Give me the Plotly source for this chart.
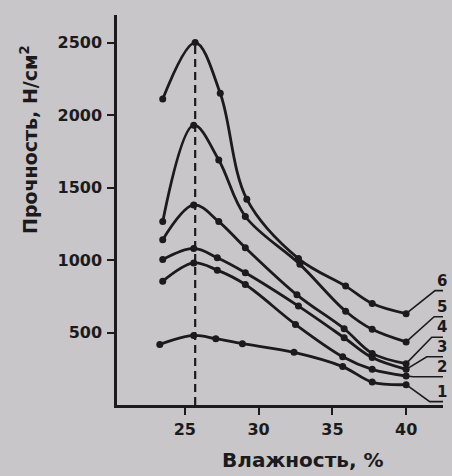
import plotly.graph_objects as go

# Moisture (%) values of measured points for each curve
x1 = [23.3, 25.6, 27.1, 28.9, 32.4, 35.7, 37.7, 40.0]
x2 = [23.5, 25.6, 27.2, 29.1, 32.5, 35.7, 37.7, 40.0]
x3 = [23.5, 25.6, 27.2, 29.1, 32.7, 35.8, 37.7, 40.0]
x4 = [23.5, 25.6, 27.3, 29.1, 32.6, 35.8, 37.7, 40.0]
x5 = [23.5, 25.6, 27.3, 29.1, 32.8, 35.9, 37.7, 40.0]
x6 = [23.5, 25.7, 27.4, 29.2, 32.7, 35.9, 37.7, 40.0]

# Strength (N/cm2)
y1 = [418, 480, 457, 423, 363, 265, 158, 140]
y2 = [854, 980, 930, 831, 556, 333, 246, 200]
y3 = [1003, 1080, 1015, 912, 682, 464, 327, 246]
y4 = [1140, 1380, 1265, 1085, 760, 526, 356, 285]
y5 = [1265, 1930, 1690, 1300, 970, 647, 522, 435]
y6 = [2110, 2500, 2150, 1420, 1010, 820, 700, 630]

curve_labels = ["1", "2", "3", "4", "5", "6"]
x_ticks = [25, 30, 35, 40]
y_ticks = [500, 1000, 1500, 2000, 2500]

# label placement (layout positions of the curve numbers at right)
label_line_y = [23, 195, 333, 467, 609, 789]
label_knee_x = [41.6, 40.5, 41.4, 41.74, 41.9, 41.96]
label_end_x = 42.75

INK = "#1b1a1c"
BG = "#c8c6c9"
FONT = "DejaVu Sans"

series_x = [x1, x2, x3, x4, x5, x6]
series_y = [y1, y2, y3, y4, y5, y6]

fig = go.Figure()

# dashed vertical line at the optimum moisture (peak of the top curve)
i_peak = y6.index(max(y6))
fig.add_trace(go.Scatter(
    x=[x6[i_peak], x6[i_peak]], y=[0, y6[i_peak]], mode="lines",
    line=dict(color=INK, width=2.2, dash="8px,5px"), hoverinfo="skip", showlegend=False))

for xs, ys in zip(series_x, series_y):
    fig.add_trace(go.Scatter(
        x=xs, y=ys, mode="lines+markers",
        line=dict(color=INK, width=2.8, shape="spline", smoothing=1.0),
        marker=dict(color=INK, size=7),
        showlegend=False, cliponaxis=False))

# leader lines and curve numbers
for xs, ys, ly, kx, lab in zip(series_x, series_y, label_line_y, label_knee_x, curve_labels):
    fig.add_trace(go.Scatter(
        x=[xs[-1], kx, label_end_x], y=[ys[-1], ly, ly], mode="lines",
        line=dict(color=INK, width=1.6), showlegend=False, cliponaxis=False,
        hoverinfo="skip"))
    fig.add_annotation(x=42.45, y=ly, xref="x", yref="y", text=lab,
                       showarrow=False, yanchor="bottom", xanchor="center", yshift=-1,
                       font=dict(family=FONT, size=15, color=INK, weight="bold"))

# axis titles
fig.add_annotation(xref="paper", yref="paper", x=(303 - 117) / 326, y=-55 / 390,
                   text="Влажность, %", showarrow=False,
                   font=dict(family=FONT, size=20, color=INK, weight="bold"),
                   xanchor="center", yanchor="middle")
fig.add_annotation(xref="paper", yref="paper", x=(29 - 117) / 326, y=(405 - 140) / 390,
                   text="Прочность, Н/см<sup>2</sup>", showarrow=False, textangle=-90,
                   font=dict(family=FONT, size=19, color=INK, weight="bold"),
                   xanchor="center", yanchor="middle")

tickfont = dict(family=FONT, size=16, color=INK, weight="bold")
fig.update_layout(
    width=452, height=476,
    margin=dict(l=117, r=9, t=15, b=71),
    paper_bgcolor=BG, plot_bgcolor=BG,
    xaxis=dict(range=[20.4, 42.5], tickvals=x_ticks, ticks="outside", ticklen=7, tickwidth=2,
               tickcolor=INK, showline=True, linecolor=INK, linewidth=2.5, showgrid=False,
               zeroline=False, tickfont=tickfont, ticklabelstandoff=1),
    yaxis=dict(range=[0, 2690], tickvals=y_ticks, ticks="outside", ticklen=7, tickwidth=2,
               tickcolor=INK, showline=True, linecolor=INK, linewidth=2.5, showgrid=False,
               zeroline=False, tickfont=tickfont, ticklabelstandoff=2),
)

fig.write_html("out.html", config={"displayModeBar": False},
               post_script="document.body.style.margin='0';document.body.style.background='%s';" % BG)
